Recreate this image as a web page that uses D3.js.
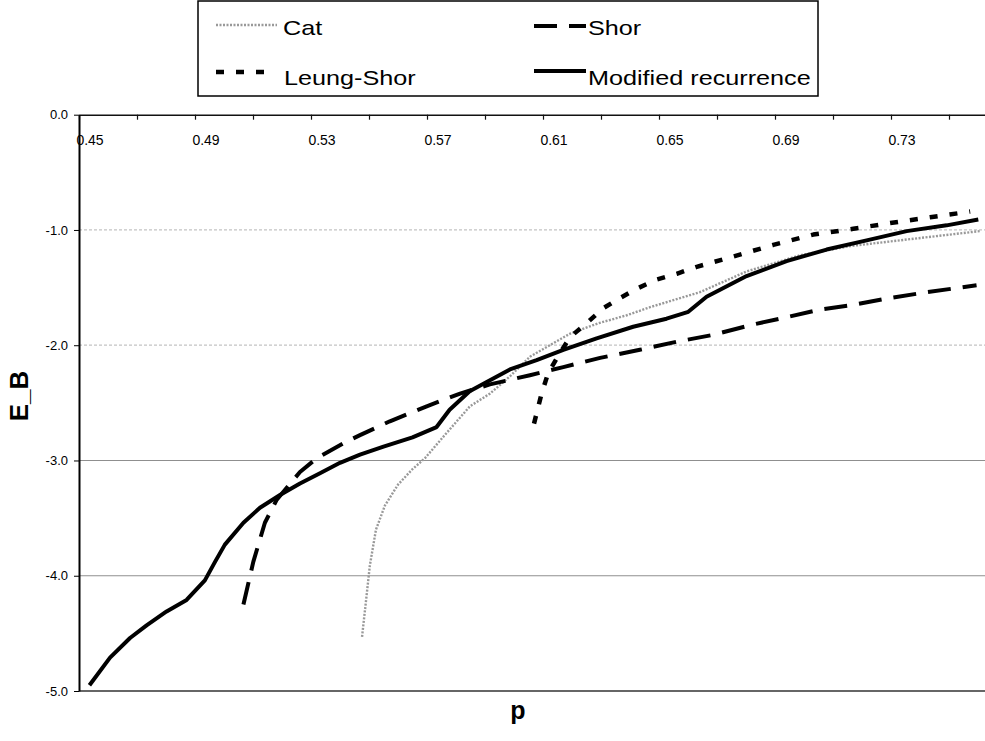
<!DOCTYPE html>
<html>
<head>
<meta charset="utf-8">
<script src="https://cdn.jsdelivr.net/npm/d3@7"></script>
<style>
  body { margin: 0; background: #fff; }
  svg { display: block; font-family: "Liberation Sans", Arial, sans-serif; }
</style>
</head>
<body>
<div id="chart"></div>
<script>
// series values (p, E_B)
const catP = [0.5426, 0.5440, 0.5453, 0.5474, 0.5505, 0.5550, 0.5598, 0.5643, 0.5718, 0.5798, 0.5867, 0.5936, 0.6005, 0.6074, 0.6143, 0.6240, 0.6339, 0.6419, 0.6591, 0.6752, 0.6936, 0.7109, 0.7281, 0.7453, 0.7557];
const catE = [-4.53, -4.21, -3.91, -3.60, -3.39, -3.21, -3.08, -2.98, -2.76, -2.53, -2.42, -2.27, -2.10, -2.00, -1.90, -1.81, -1.74, -1.67, -1.54, -1.36, -1.22, -1.14, -1.09, -1.04, -1.01];

const shorP = [0.5017, 0.5051, 0.5091, 0.5132, 0.5212, 0.5270, 0.5362, 0.5419, 0.5522, 0.5649, 0.5764, 0.5867, 0.6005, 0.6120, 0.6247, 0.6384, 0.6511, 0.6637, 0.6775, 0.6902, 0.7006, 0.7120, 0.7247, 0.7373, 0.7545];
const shorE = [-4.25, -3.88, -3.54, -3.34, -3.10, -2.98, -2.85, -2.78, -2.66, -2.53, -2.42, -2.34, -2.26, -2.19, -2.11, -2.04, -1.97, -1.91, -1.82, -1.75, -1.69, -1.65, -1.59, -1.54, -1.48];

const leungP = [0.6019, 0.6045, 0.6068, 0.6108, 0.6143, 0.6200, 0.6257, 0.6316, 0.6373, 0.6442, 0.6511, 0.6580, 0.6706, 0.6844, 0.6982, 0.7120, 0.7247, 0.7385, 0.7523];
const leungE = [-2.68, -2.42, -2.24, -2.07, -1.93, -1.81, -1.68, -1.59, -1.51, -1.43, -1.38, -1.32, -1.23, -1.13, -1.04, -0.99, -0.94, -0.89, -0.84];

const modP = [0.4486, 0.4557, 0.4626, 0.4683, 0.4752, 0.4821, 0.4884, 0.4919, 0.4953, 0.5017, 0.5074, 0.5143, 0.5212, 0.5281, 0.5350, 0.5419, 0.5500, 0.5600, 0.5683, 0.5728, 0.5797, 0.5856, 0.5936, 0.6028, 0.6120, 0.6235, 0.6361, 0.6476, 0.6551, 0.6614, 0.6752, 0.6890, 0.7028, 0.7166, 0.7304, 0.7442, 0.7551];
const modE = [-4.95, -4.71, -4.54, -4.43, -4.31, -4.21, -4.04, -3.88, -3.73, -3.54, -3.41, -3.30, -3.20, -3.11, -3.02, -2.95, -2.88, -2.80, -2.71, -2.56, -2.40, -2.32, -2.21, -2.13, -2.04, -1.94, -1.84, -1.77, -1.71, -1.58, -1.40, -1.27, -1.17, -1.09, -1.01, -0.96, -0.91];

// axis ticks and labels
const xLabels = [0.45, 0.49, 0.53, 0.57, 0.61, 0.65, 0.69, 0.73];
const xTickMarks = [0.445, 0.465, 0.485, 0.505, 0.525, 0.545, 0.565, 0.585, 0.605, 0.625, 0.645, 0.665, 0.685, 0.705, 0.725, 0.745];
const yTicks = [0, -1, -2, -3, -4, -5];
const yGrid = [-1, -2, -3, -4];
const seriesNames = ["Cat", "Shor", "Leung-Shor", "Modified recurrence"];

const width = 985;
const height = 741;
const left = 79;

const svg = d3.select("#chart")
  .append("svg")
  .attr("width", width)
  .attr("height", height);

const x = d3.scaleLinear()
  .domain([0.445, 0.445 + (width - left) / 2900])
  .range([left, width]);

const y = d3.scaleLinear()
  .domain([-5, 0])
  .range([691, 114.7]);

// grid (upper lines came out fainter in the scan)
svg.append("g")
  .selectAll("line")
  .data(yGrid)
  .join("line")
  .attr("x1", left)
  .attr("x2", width)
  .attr("y1", (d) => y(d))
  .attr("y2", (d) => y(d))
  .attr("stroke", (d) => (d > -3 ? "#c4c4c4" : "#8f8f8f"))
  .attr("stroke-dasharray", (d) => (d > -3 ? "3,2" : null))
  .attr("stroke-width", 1.2);

// bottom border of the plot
svg.append("line")
  .attr("x1", left)
  .attr("x2", width)
  .attr("y1", y(-5))
  .attr("y2", y(-5))
  .attr("stroke", "#333")
  .attr("stroke-width", 1.6);

// series
const series = [
  { name: "Cat", p: catP, e: catE, color: "#999", w: 2.4, dash: "2,1.5" },
  { name: "Shor", p: shorP, e: shorE, color: "#000", w: 4, dash: "23,12" },
  { name: "Leung-Shor", p: leungP, e: leungE, color: "#000", w: 4.5, dash: "8,12" },
  { name: "Modified recurrence", p: modP, e: modE, color: "#000", w: 4, dash: null }
];

const line = d3.line()
  .x((d) => x(d[0]))
  .y((d) => y(d[1]));

svg.append("g")
  .selectAll("path")
  .data(series)
  .join("path")
  .attr("d", (s) => line(d3.zip(s.p, s.e)))
  .attr("fill", "none")
  .attr("stroke", (s) => s.color)
  .attr("stroke-width", (s) => s.w)
  .attr("stroke-dasharray", (s) => s.dash)
  .attr("stroke-linejoin", "round");

// top axis: tick marks
const topAxis = svg.append("g")
  .attr("transform", `translate(0,${y(0)})`)
  .call(d3.axisBottom(x).tickValues(xTickMarks).tickSize(5).tickSizeOuter(0).tickFormat(""));
topAxis.select(".domain").attr("stroke", "#111").attr("stroke-width", 1.6);
topAxis.selectAll(".tick line").attr("stroke", "#111").attr("stroke-width", 1.2);

// top axis: labels
const topLabels = svg.append("g")
  .attr("transform", `translate(0,${y(0)})`)
  .call(d3.axisBottom(x).tickValues(xLabels).tickSize(0).tickFormat((d) => d.toFixed(2)));
topLabels.select(".domain").remove();
topLabels.selectAll("text")
  .attr("y", 30)
  .attr("dy", null)
  .attr("dx", -4)
  .attr("fill", "#000")
  .attr("font-size", 14)
  .attr("font-family", "Liberation Sans, Arial, sans-serif");

// left axis
const leftAxis = svg.append("g")
  .attr("transform", `translate(${left},0)`)
  .call(d3.axisLeft(y).tickValues(yTicks).tickSize(5).tickPadding(6).tickSizeOuter(0).tickFormat((d) => d.toFixed(1)));
leftAxis.select(".domain").attr("stroke", "#000").attr("stroke-width", 2);
leftAxis.selectAll("text")
  .attr("fill", "#000")
  .attr("font-size", 13)
  .attr("font-family", "Liberation Sans, Arial, sans-serif");

// axis titles
svg.append("text")
  .attr("x", 518)
  .attr("y", 719)
  .attr("text-anchor", "middle")
  .attr("font-size", 25)
  .attr("font-weight", "bold")
  .text("p");

svg.append("text")
  .attr("transform", "translate(28,396) rotate(-90)")
  .attr("text-anchor", "middle")
  .attr("font-size", 26)
  .attr("font-weight", "bold")
  .text("E_B");

// legend
const legend = svg.append("g");
legend.append("rect")
  .attr("x", 198)
  .attr("y", 1)
  .attr("width", 620)
  .attr("height", 95)
  .attr("fill", "#fff")
  .attr("stroke", "#000")
  .attr("stroke-width", 1.5);

const slots = [
  { sx: 216, ex: 277, tx: 283, sy: 25, ty: 35 },
  { sx: 534, ex: 586, tx: 588, sy: 26, ty: 35 },
  { sx: 216, ex: 267, tx: 284, sy: 72, ty: 85 },
  { sx: 534, ex: 586, tx: 588, sy: 71, ty: 85 }
];

const items = legend.selectAll("g.item")
  .data(series)
  .join("g")
  .attr("class", "item");

items.append("line")
  .attr("x1", (d, i) => slots[i].sx)
  .attr("x2", (d, i) => slots[i].ex)
  .attr("y1", (d, i) => slots[i].sy)
  .attr("y2", (d, i) => slots[i].sy)
  .attr("stroke", (d) => d.color)
  .attr("stroke-width", (d) => d.w)
  .attr("stroke-dasharray", (d) => d.dash);

items.append("text")
  .attr("x", (d, i) => slots[i].tx)
  .attr("y", (d, i) => slots[i].ty)
  .attr("font-size", 21)
  .text((d, i) => seriesNames[i])
  .each(function () {
    const len = this.getComputedTextLength();
    d3.select(this)
      .attr("textLength", len * 1.2)
      .attr("lengthAdjust", "spacingAndGlyphs");
  });
</script>
</body>
</html>
